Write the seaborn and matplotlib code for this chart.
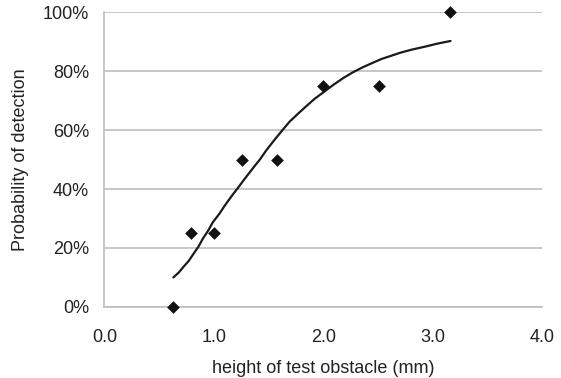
import matplotlib
matplotlib.use("Agg")
import matplotlib.pyplot as plt
import seaborn as sns
import pandas as pd
from matplotlib.ticker import PercentFormatter, FixedLocator

# Observed data (height in mm, detection probability in %)
heights = [0.63, 0.79, 1.0, 1.26, 1.58, 2.0, 2.51, 3.16]
detect = [0, 25, 25, 50, 50, 75, 75, 100]

# Fitted curve
curve_x = [0.63, 0.68, 0.72, 0.77, 0.81, 0.86, 0.90, 0.95, 0.99, 1.05, 1.10, 1.16, 1.22, 1.27, 1.32, 1.37,
           1.42, 1.48, 1.55, 1.62, 1.69, 1.77, 1.85, 1.92, 2.0, 2.09, 2.18, 2.27, 2.36, 2.45, 2.53,
           2.62, 2.70, 2.81, 2.93, 3.04, 3.16]
curve_y = [10.0, 11.7, 13.5, 15.6, 17.8, 20.5, 23.2, 26.0, 28.7, 31.6, 34.4, 37.5, 40.4, 42.9, 45.3, 47.7,
           50.0, 53.2, 56.5, 59.7, 62.8, 65.6, 68.3, 70.6, 72.8, 75.3, 77.6, 79.6, 81.3, 82.8, 84.1,
           85.2, 86.2, 87.3, 88.3, 89.3, 90.2]

xticks = [0.0, 1.0, 2.0, 3.0, 4.0]
yticks = [0, 20, 40, 60, 80, 100]

sns.set_theme(style="white")
plt.rcParams['font.family'] = ['Liberation Sans', 'DejaVu Sans']

fig = plt.figure(figsize=(5.61, 3.78), dpi=100)
ax = fig.add_axes([0.186, 0.188, 0.781, 0.780])

obs = pd.DataFrame({"h": heights, "p": detect})
fit = pd.DataFrame({"h": curve_x, "p": curve_y})

sns.lineplot(data=fit, x="h", y="p", ax=ax, color="#1a1a1a", lw=1.6, sort=False, zorder=3)
sns.scatterplot(data=obs, x="h", y="p", ax=ax, marker="D", s=42, color="#111111",
                edgecolor="#111111", linewidth=0, zorder=4, clip_on=False)

ax.set_xlim(0, 4.0)
ax.set_ylim(0, 100)
ax.xaxis.set_major_locator(FixedLocator(xticks))
ax.yaxis.set_major_locator(FixedLocator(yticks))
ax.set_xticklabels([f"{t:.1f}" for t in xticks])
ax.yaxis.set_major_formatter(PercentFormatter(decimals=0))

ax.grid(axis="y", color="#bdbdbd", lw=1.2)
ax.grid(axis="x", visible=False)
ax.set_axisbelow(True)
for s in ["top", "right"]:
    ax.spines[s].set_visible(False)
for s in ["left", "bottom"]:
    ax.spines[s].set_color("#bdbdbd")
    ax.spines[s].set_linewidth(1.2)

ax.tick_params(axis="both", which="major", labelsize=13, colors="#bdbdbd",
               labelcolor="#222222", length=4, width=1.2, direction="out")
ax.tick_params(axis="x", pad=12)
ax.tick_params(axis="y", pad=7)

ax.set_xlabel("height of test obstacle (mm)", fontsize=13, color="#222222", labelpad=10)
ax.set_ylabel("Probability of detection", fontsize=13, color="#222222", labelpad=10)

fig.savefig("out.png", dpi=100, facecolor="white")
